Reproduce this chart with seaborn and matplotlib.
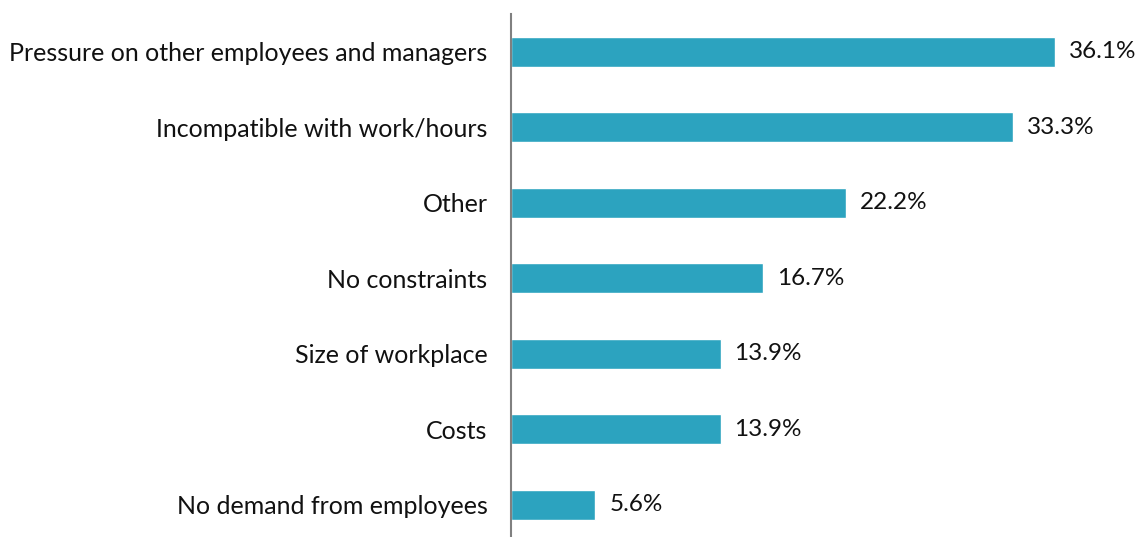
import matplotlib.pyplot as plt
import pandas as pd
import seaborn as sns

reasons = ["Pressure on other employees and managers", "Incompatible with work/hours",
           "Other", "No constraints", "Size of workplace", "Costs",
           "No demand from employees"]
shares = [36.1, 33.3, 22.2, 16.7, 13.9, 13.9, 5.6]

data = pd.DataFrame({"reason": reasons, "share": shares})

sns.set_style("white")
plt.rcParams["font.family"] = ["Lato", "DejaVu Sans"]

fig = plt.figure(figsize=(11.41, 5.37), dpi=100)
ax = fig.add_axes([0.4479, -0.0102, 0.5283, 0.9841])
sns.barplot(x="share", y="reason", data=data, orient="h", color="#2ca3bf",
            width=0.4, saturation=1, ax=ax)
ax.set_xlim(0, 40)
ax.set_ylim(6.5, -0.5)
ax.set_xlabel("")
ax.set_ylabel("")
ax.set_xticks([])
sns.despine(ax=ax, top=True, right=True, bottom=True)
ax.spines["left"].set_color("#808080")
ax.spines["left"].set_linewidth(1.5)
ax.tick_params(axis="y", length=0, pad=17, labelsize=18, labelcolor="#111111")

# value labels
for i, v in enumerate(shares):
    ax.annotate(f"{v}%", (v, i), xytext=(10, 0), textcoords="offset points",
                va="center", ha="left", fontsize=17.5, color="#111111")

fig.savefig("out.png", dpi=100)
